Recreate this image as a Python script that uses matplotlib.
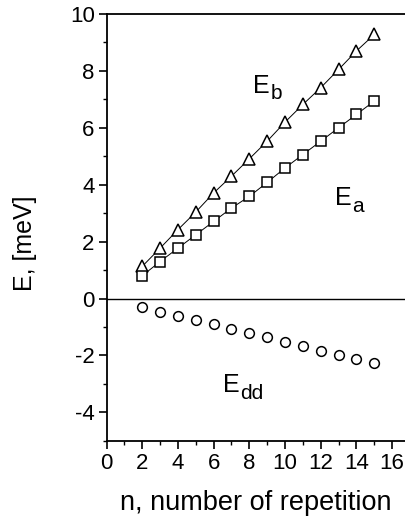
import numpy as np
import matplotlib
matplotlib.use('Agg')
import matplotlib.pyplot as plt
from matplotlib.ticker import MultipleLocator

plt.rcParams['font.family'] = ['Liberation Sans', 'DejaVu Sans']
plt.rcParams['axes.unicode_minus'] = False

# data
n = [2, 3, 4, 5, 6, 7, 8, 9, 10, 11, 12, 13, 14, 15]
e_b = [1.13, 1.77, 2.42, 3.04, 3.71, 4.30, 4.91, 5.53, 6.20, 6.82, 7.41, 8.05, 8.70, 9.28]
e_a = [0.80, 1.30, 1.77, 2.24, 2.71, 3.18, 3.59, 4.08, 4.59, 5.06, 5.53, 6.00, 6.47, 6.94]
e_dd = [-0.30, -0.46, -0.61, -0.75, -0.90, -1.07, -1.21, -1.36, -1.51, -1.68, -1.83, -1.97, -2.13, -2.27]

# curve labels: (main, subscript, x, y)
labels = [('E', 'b', 8.2, 7.24), ('E', 'a', 12.8, 3.30), ('E', 'dd', 6.53, -3.28)]

fig = plt.figure(figsize=(4.05, 5.18), dpi=100)
ax = fig.add_axes([0.263, 0.149, 0.737, 0.824])

ax.plot(n, e_b, '-', color='black', lw=0.7, marker='^', ms=9, mfc='white', mec='black', mew=1.1)
ax.plot(n, e_a, '-', color='black', lw=0.7, marker='s', ms=6.5, mfc='white', mec='black', mew=1.1)
ax.plot(n, e_dd, 'o', ms=7, mfc='white', mec='black', mew=1.1)
ax.axhline(0, color='black', lw=1)


def sublabel(main, sub, x, y):
    ax.text(x, y, main, fontsize=18, va='baseline', ha='left')
    ax.annotate(sub, (x, y), xytext=(12.5, -5), textcoords='offset points',
                fontsize=15, va='baseline', ha='left')


for main, sub, x, y in labels:
    sublabel(main, sub, x, y)

ax.set_xlim(0, 16.72)
ax.set_ylim(-5, 10)
ax.set_xticks(np.arange(0, 17, 2))
ax.set_yticks(np.arange(-4, 11, 2))
ax.xaxis.set_minor_locator(MultipleLocator(1))
ax.yaxis.set_minor_locator(MultipleLocator(1))
ax.tick_params(which='major', direction='out', length=5.5, width=1.2, labelsize=16, pad=3)
ax.tick_params(which='minor', direction='out', length=3, width=1)
ax.spines['right'].set_visible(False)
for s in ['left', 'bottom', 'top']:
    ax.spines[s].set_linewidth(1.3)

ax.set_xlabel('n, number of repetition', fontsize=19.5, labelpad=12)
ax.set_ylabel('E, [meV]', fontsize=18)
ax.yaxis.set_label_coords(-0.233, 0.463)

fig.savefig('out.png', dpi=100)
